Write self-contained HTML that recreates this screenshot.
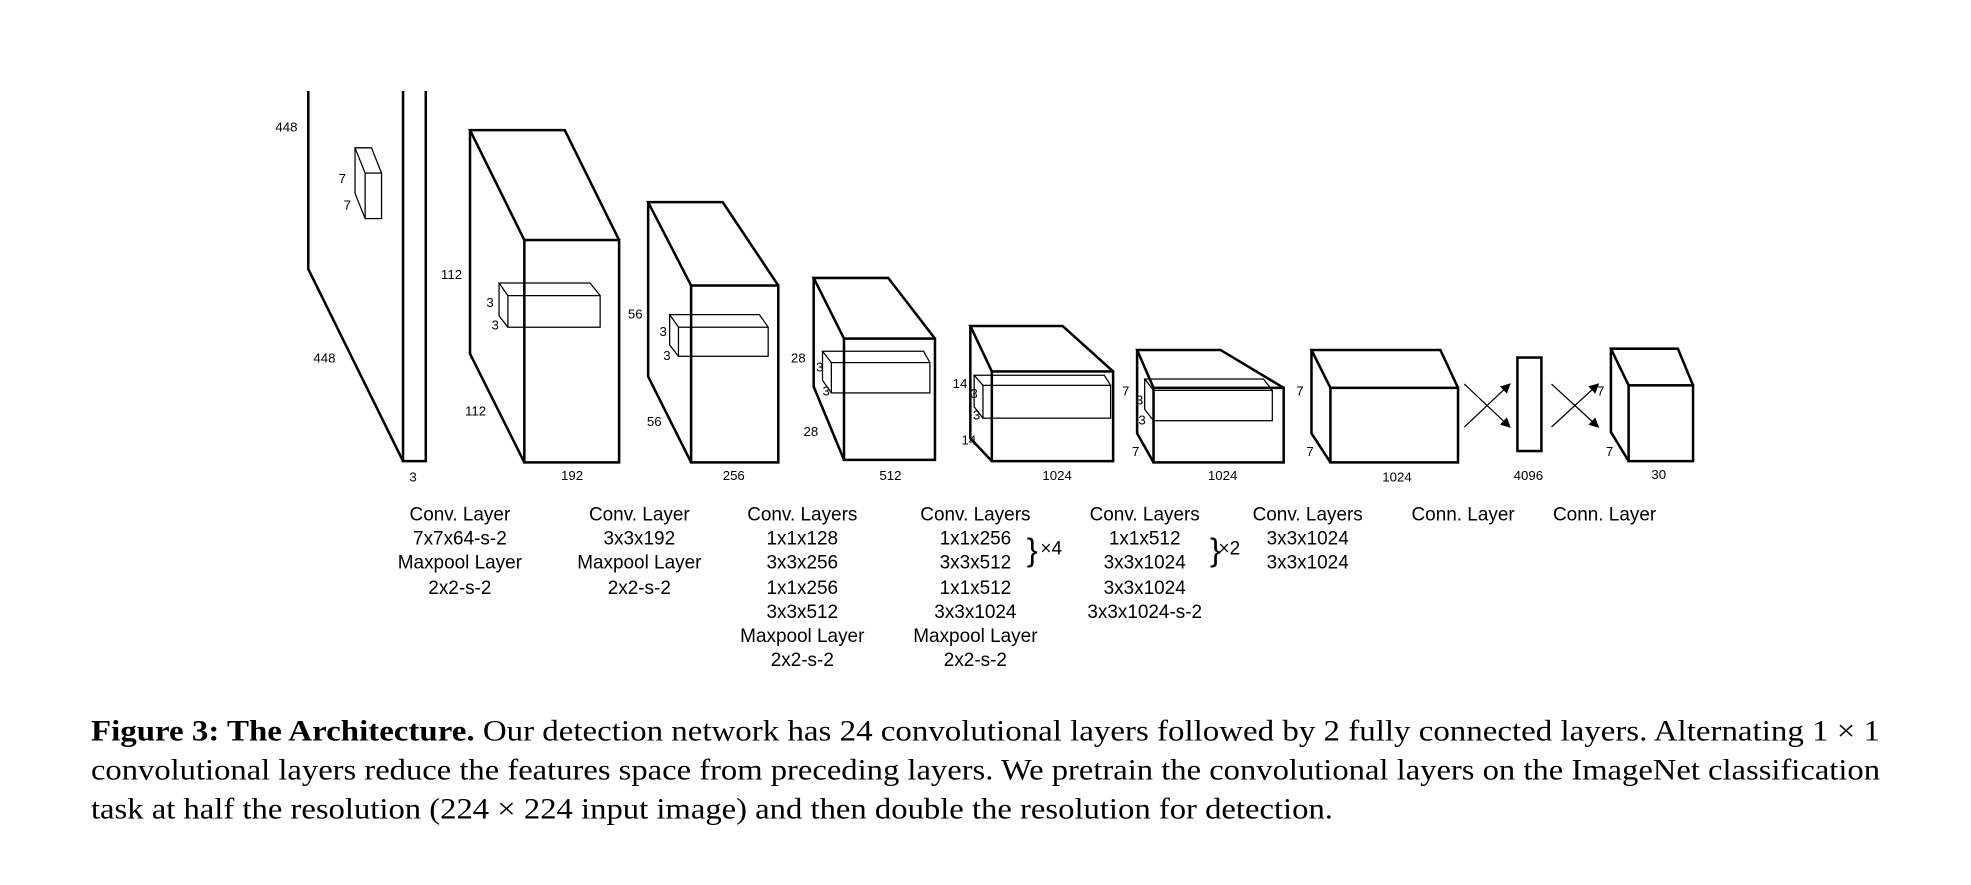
<!DOCTYPE html>
<html><head><meta charset="utf-8"><style>
html,body{margin:0;padding:0;background:#fff;}
svg{display:block}
.t{font-family:"Liberation Sans",sans-serif;font-size:15px;text-anchor:middle;fill:#000}
.s{font-family:"Liberation Sans",sans-serif;font-size:10.5px;fill:#000}
.c{font-family:"Liberation Serif",serif;font-size:23px;fill:#000}
</style></head><body>
<svg width="1971" height="885" viewBox="0 0 1560 700.5" preserveAspectRatio="none" xmlns="http://www.w3.org/2000/svg">
<defs><marker id="ah" markerWidth="8" markerHeight="8" refX="7" refY="4" orient="auto" markerUnits="userSpaceOnUse"><path d="M0,0 L8,4 L0,8 z" fill="#000"/></marker></defs>
<g fill="none" stroke="#000" stroke-width="2" stroke-linejoin="miter">
<!-- plane 1 -->
<path d="M244,72 L244,213 L319,365"/>
<path d="M319,72 L319,365 L337,365 L337,72"/>
<!-- box2 -->
<path d="M415,190 L372,103 L447,103 L490,190 M372,103 L372,280 L415,366"/>
<rect x="415" y="190" width="75" height="176"/>
<!-- box3 -->
<path d="M547,226 L513,160 L572,160 L616,226 M513,160 L513,298 L547,366"/>
<rect x="547" y="226" width="69" height="140"/>
<!-- box4 -->
<path d="M668,268 L644,220 L703,220 L740,268 M644,220 L644,306 L668,364"/>
<rect x="668" y="268" width="72" height="96"/>
<!-- box5 -->
<path d="M785,294 L768,258 L841,258 L881,294 M768,258 L768,347 L785,365"/>
<rect x="785" y="294" width="96" height="71"/>
<!-- box6 -->
<path d="M913,307 L900,277 L966,277 L1016,307 M900,277 L900,343 L913,366"/>
<rect x="913" y="307" width="103" height="59"/>
<!-- box7 -->
<path d="M1053,307 L1038,277 L1140,277 L1154,307 M1038,277 L1038,343 L1053,366"/>
<rect x="1053" y="307" width="101" height="59"/>
<!-- bar -->
<rect x="1201" y="283" width="19" height="74"/>
<!-- box8 -->
<path d="M1289,305 L1275,276 L1328,276 L1340,305 M1275,276 L1275,342 L1289,365"/>
<rect x="1289" y="305" width="51" height="60"/>
</g>
<g fill="none" stroke="#000" stroke-width="1">
<rect x="289" y="137" width="13" height="36"/><path d="M289,137 L281,117 L294,117 L302,137 M281,117 L281,153 L289,173"/>
<rect x="402" y="234" width="73" height="25"/><path d="M402,234 L395,224 L467,224 L475,234 M395,224 L395,250 L402,259"/>
<rect x="537" y="259" width="71" height="23"/><path d="M537,259 L530,249 L601,249 L608,259 M530,249 L530,273 L537,282"/>
<rect x="658" y="287" width="78" height="24"/><path d="M658,287 L651,278 L731,278 L736,287 M651,278 L651,301 L658,311"/>
<rect x="778" y="305" width="101" height="26"/><path d="M778,305 L771,297 L874,297 L879,305 M771,297 L771,322 L778,331"/>
<rect x="913" y="309" width="94" height="24"/><path d="M913,309 L906,300 L1000,300 L1007,309 M906,300 L906,324 L913,333"/>
<path d="M1159,338 L1195,304" marker-end="url(#ah)"/><path d="M1159,304 L1195,338" marker-end="url(#ah)"/>
<path d="M1228,338 L1265,304" marker-end="url(#ah)"/><path d="M1228,304 L1265,338" marker-end="url(#ah)"/>
</g>
<g class="s">
<text x="218" y="104">448</text><text x="268" y="145">7</text><text x="272" y="166">7</text>
<text x="248" y="287">448</text><text x="324" y="381">3</text>
<text x="349" y="221">112</text><text x="368" y="329">112</text><text x="444" y="380">192</text>
<text x="385" y="243">3</text><text x="389" y="261">3</text>
<text x="497" y="252">56</text><text x="512" y="337">56</text><text x="572" y="380">256</text>
<text x="522" y="266">3</text><text x="525" y="285">3</text>
<text x="626" y="287">28</text><text x="636" y="345">28</text><text x="696" y="380">512</text>
<text x="646" y="294">3</text><text x="651" y="313">3</text>
<text x="754" y="307">14</text><text x="761" y="352">14</text><text x="825" y="380">1024</text>
<text x="768" y="315">3</text><text x="770" y="332">3</text>
<text x="888" y="313">7</text><text x="896" y="361">7</text><text x="956" y="380">1024</text>
<text x="899" y="320">3</text><text x="901" y="336">3</text>
<text x="1026" y="313">7</text><text x="1034" y="361">7</text><text x="1094" y="381">1024</text>
<text x="1198" y="380">4096</text>
<text x="1264" y="313">7</text><text x="1271" y="361">7</text><text x="1307" y="379">30</text>
</g>
<g class="t">
<text x="364" y="412">Conv. Layer</text><text x="364" y="431">7x7x64-s-2</text><text x="364" y="450">Maxpool Layer</text><text x="364" y="470">2x2-s-2</text>
<text x="506" y="412">Conv. Layer</text><text x="506" y="431">3x3x192</text><text x="506" y="450">Maxpool Layer</text><text x="506" y="470">2x2-s-2</text>
<text x="635" y="412">Conv. Layers</text><text x="635" y="431">1x1x128</text><text x="635" y="450">3x3x256</text><text x="635" y="470">1x1x256</text><text x="635" y="489">3x3x512</text><text x="635" y="508">Maxpool Layer</text><text x="635" y="527">2x2-s-2</text>
<text x="772" y="412">Conv. Layers</text><text x="772" y="431">1x1x256</text><text x="772" y="450">3x3x512</text><text x="772" y="470">1x1x512</text><text x="772" y="489">3x3x1024</text><text x="772" y="508">Maxpool Layer</text><text x="772" y="527">2x2-s-2</text>
<text x="906" y="412">Conv. Layers</text><text x="906" y="431">1x1x512</text><text x="906" y="450">3x3x1024</text><text x="906" y="470">3x3x1024</text><text x="906" y="489">3x3x1024-s-2</text>
<text x="1035" y="412">Conv. Layers</text><text x="1035" y="431">3x3x1024</text><text x="1035" y="450">3x3x1024</text>
<text x="1158" y="412">Conn. Layer</text><text x="1270" y="412">Conn. Layer</text>
<text x="817" y="444" style="font-size:26px">}</text><text x="832" y="439">×4</text>
<text x="962" y="444" style="font-size:26px">}</text><text x="973" y="439">×2</text>
</g>
<g class="c">
<text x="72" y="586" textLength="1416" lengthAdjust="spacingAndGlyphs"><tspan font-weight="bold">Figure 3: The Architecture.</tspan> Our detection network has 24 convolutional layers followed by 2 fully connected layers. Alternating 1 × 1</text>
<text x="72" y="617" textLength="1416" lengthAdjust="spacingAndGlyphs">convolutional layers reduce the features space from preceding layers. We pretrain the convolutional layers on the ImageNet classification</text>
<text x="72" y="648" textLength="983" lengthAdjust="spacingAndGlyphs">task at half the resolution (224 × 224 input image) and then double the resolution for detection.</text>
</g>
</svg>
</body></html>
